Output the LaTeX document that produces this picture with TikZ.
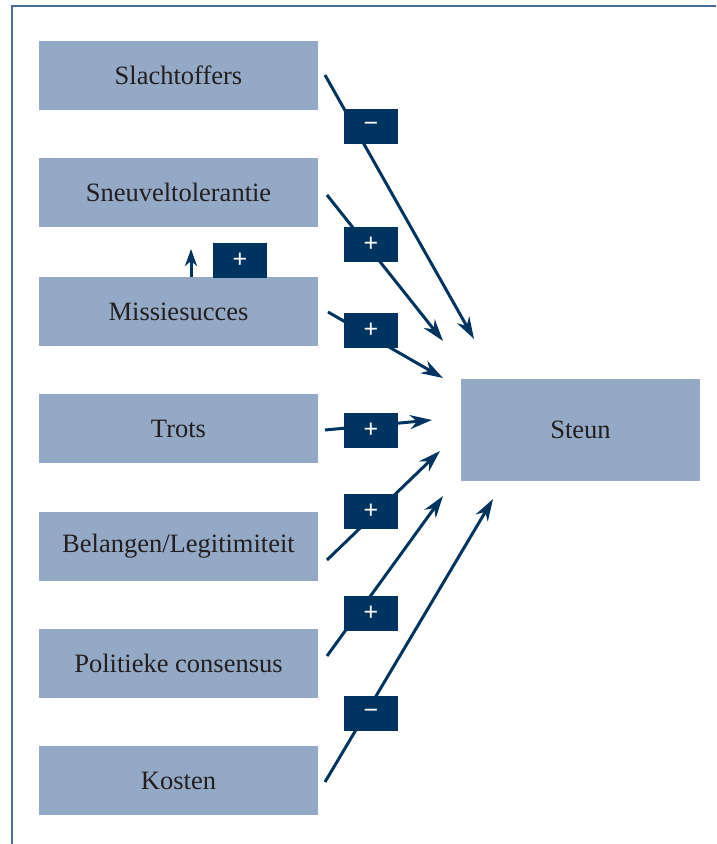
\documentclass[tikz,border=0pt]{standalone}
\usepackage{fontspec}
\setmainfont{Liberation Serif}
\newfontfamily\signfont{Liberation Sans}
\usetikzlibrary{arrows.meta}
\definecolor{boxfill}{HTML}{94A9C6}
\definecolor{navy}{HTML}{003460}
\definecolor{framec}{HTML}{4A6C92}
\definecolor{txt}{HTML}{231F20}
\begin{document}
\begin{tikzpicture}[x=1pt,y=-1pt,
  factor/.style={rectangle,fill=boxfill,minimum width=279pt,minimum height=69pt,inner sep=0pt,text=txt,font=\fontsize{26.5}{30}\selectfont},
  sign/.style={rectangle,fill=navy,minimum width=54pt,minimum height=35pt,inner sep=0pt,text=white,font=\signfont\fontsize{25}{28}\selectfont},
  link/.style={draw=navy,line width=3pt,-{Stealth[length=22pt,width=14pt,inset=7pt]}}]
\useasboundingbox (0,0) rectangle (716,844);
\draw[framec,line width=2pt] (11.5,844) -- (11.5,5.5) -- (716,5.5);
% factor boxes
\node[factor] (f1) at (178.5,75.5) {Slachtoffers};
\node[factor] (f2) at (178.5,192.5) {Sneuveltolerantie};
\node[factor] (f3) at (178.5,311.5) {Missiesucces};
\node[factor] (f4) at (178.5,428.5) {Trots};
\node[factor] (f5) at (178.5,546.5) {Belangen/Legitimiteit};
\node[factor] (f6) at (178.5,663.5) {Politieke consensus};
\node[factor] (f7) at (178.5,780.5) {Kosten};
\node[factor,minimum width=239pt,minimum height=102pt] (st) at (580.5,430) {Steun};
% connector ends
\coordinate (s1) at (325,75);  \coordinate (e1) at (474,339);
\coordinate (s2) at (327,195); \coordinate (e2) at (443,341);
\coordinate (s3) at (328,312); \coordinate (e3) at (443,378);
\coordinate (s4) at (325,430); \coordinate (e4) at (432,420);
\coordinate (s5) at (327,560); \coordinate (e5) at (440,451);
\coordinate (s6) at (327,656); \coordinate (e6) at (443,496);
\coordinate (s7) at (325,782); \coordinate (e7) at (493,499);
\coordinate (eu) at (191,249);
\draw[link] (s1) -- (e1);
\draw[link] (s2) -- (e2);
\draw[link] (s3) -- (e3);
\draw[link] (s4) -- (e4);
\draw[link] (s5) -- (e5);
\draw[link] (s6) -- (e6);
\draw[link] (s7) -- (e7);
\draw[draw=navy,line width=3pt,-{Stealth[length=17pt,width=12pt,inset=5pt]}] (f3.north -| eu) -- (eu);
% sign labels
\node[sign] (l1) at (371,126.5) {−};
\node[sign] (l2) at (371,244.5) {+};
\node[sign] (l3) at (371,330.5) {+};
\node[sign] (l4) at (371,430.5) {+};
\node[sign] (l5) at (371,511.5) {+};
\node[sign] (l6) at (371,613.5) {+};
\node[sign] (l7) at (371,713.5) {−};
\node[sign] (lu) at (240,260) {+};
\end{tikzpicture}
\end{document}
